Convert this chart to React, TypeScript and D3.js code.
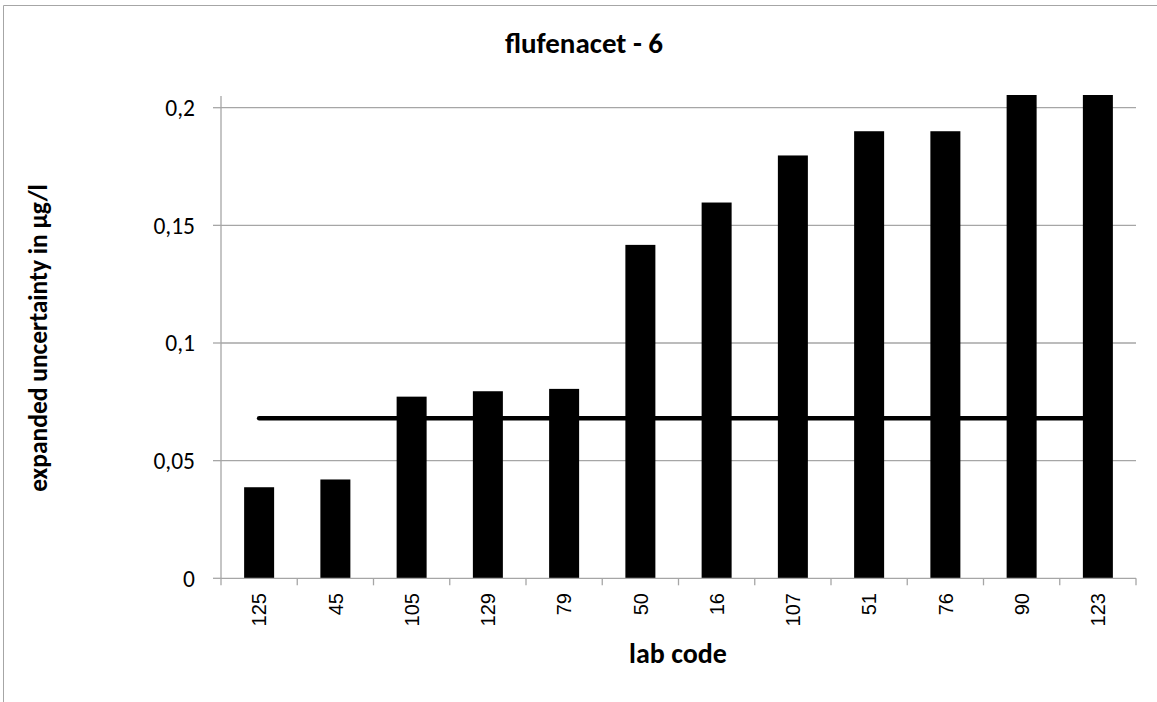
import React from "react";
import * as d3 from "d3";

const labCodes = ["125", "45", "105", "129", "79", "50", "16", "107", "51", "76", "90", "123"];
const uncertainty = [0.0387, 0.042, 0.0772, 0.0795, 0.0805, 0.1417, 0.1597, 0.1797, 0.19, 0.19, 0.21, 0.21];
const referenceValue = 0.068;
const yTicks = [0, 0.05, 0.1, 0.15, 0.2];
const title = "flufenacet - 6";
const yTitle = "expanded uncertainty in µg/l";
const xTitle = "lab code";

const W = 1157;
const H = 702;
const left = 221;
const right = 1136;
const bottom = 578.3;
const top = 95;

export default function App() {
  const p = 0.6066;
  const x = d3.scaleBand<string>().domain(labCodes).range([left, right]).paddingInner(p).paddingOuter(p / 2);
  const y = d3.scaleLinear().domain([0, 0.2]).range([bottom, 107.7]);
  const step = x.step();
  const fmt = (v: number) => String(v).replace(".", ",");
  const calibri = "Carlito, Calibri, Lato, 'Open Sans', sans-serif";
  const arial = "'Liberation Sans', Arial, sans-serif";
  const lineX1 = (x(labCodes[0]) as number) + x.bandwidth() / 2;
  const lineX2 = (x(labCodes[labCodes.length - 1]) as number) + x.bandwidth() / 2;

  return (
    <svg width={W} height={H} style={{ position: "absolute", left: 0, top: 0, background: "#fff" }}>
      <defs>
        <clipPath id="plotClip">
          <rect x={left} y={top} width={right - left} height={bottom - top} />
        </clipPath>
      </defs>
      <rect x={0} y={0} width={W} height={H} fill="#fff" />
      {/* chart border (top and left visible) */}
      <line x1={3.5} y1={5.5} x2={W} y2={5.5} stroke="#a6a6a6" strokeWidth={1} />
      <line x1={3.5} y1={5.5} x2={3.5} y2={H} stroke="#a6a6a6" strokeWidth={1} />

      {/* gridlines */}
      {yTicks.filter((t) => t > 0).map((t) => (
        <line key={t} x1={left} x2={right} y1={y(t)} y2={y(t)} stroke="#a6a6a6" strokeWidth={1.3} />
      ))}

      {/* bars */}
      <g clipPath="url(#plotClip)">
        {labCodes.map((c, i) => (
          <rect
            key={c}
            x={x(c)}
            y={y(uncertainty[i])}
            width={x.bandwidth()}
            height={bottom - y(uncertainty[i])}
            fill="#000"
          />
        ))}
      </g>

      {/* reference line */}
      <line
        x1={lineX1}
        x2={lineX2}
        y1={y(referenceValue)}
        y2={y(referenceValue)}
        stroke="#000"
        strokeWidth={4.5}
        strokeLinecap="round"
      />

      {/* axes */}
      <line x1={left} x2={left} y1={96} y2={bottom} stroke="#a6a6a6" strokeWidth={1.3} />
      <line x1={left} x2={right} y1={bottom} y2={bottom} stroke="#a6a6a6" strokeWidth={1.3} />
      {yTicks.map((t) => (
        <g key={t}>
          <line x1={213} x2={left} y1={y(t)} y2={y(t)} stroke="#a6a6a6" strokeWidth={1.3} />
          <text x={195} y={y(t)} dy="0.36em" textAnchor="end" fontFamily={calibri} fontSize={23.5} fill="#000">
            {fmt(t)}
          </text>
        </g>
      ))}
      {d3.range(labCodes.length + 1).map((i) => (
        <line
          key={i}
          x1={left + i * step}
          x2={left + i * step}
          y1={bottom}
          y2={bottom + 7}
          stroke="#a6a6a6"
          strokeWidth={1.3}
        />
      ))}
      {labCodes.map((c) => {
        const cx = (x(c) as number) + x.bandwidth() / 2;
        return (
          <text
            key={c}
            transform={`translate(${cx},${593}) rotate(-90)`}
            textAnchor="end"
            dy="0.36em"
            fontFamily={arial}
            fontSize={20}
            fill="#000"
          >
            {c}
          </text>
        );
      })}

      {/* titles */}
      <text x={584} y={53} textAnchor="middle" fontFamily={calibri} fontWeight="bold" fontSize={29} fill="#000">
        {title}
      </text>
      <text x={678} y={663} textAnchor="middle" fontFamily={calibri} fontWeight="bold" fontSize={28} fill="#000">
        {xTitle}
      </text>
      <text
        transform={`translate(${47},${338}) rotate(-90)`}
        textAnchor="middle"
        fontFamily={calibri}
        fontWeight="bold"
        fontSize={25.5}
        fill="#000"
      >
        {yTitle}
      </text>
    </svg>
  );
}
